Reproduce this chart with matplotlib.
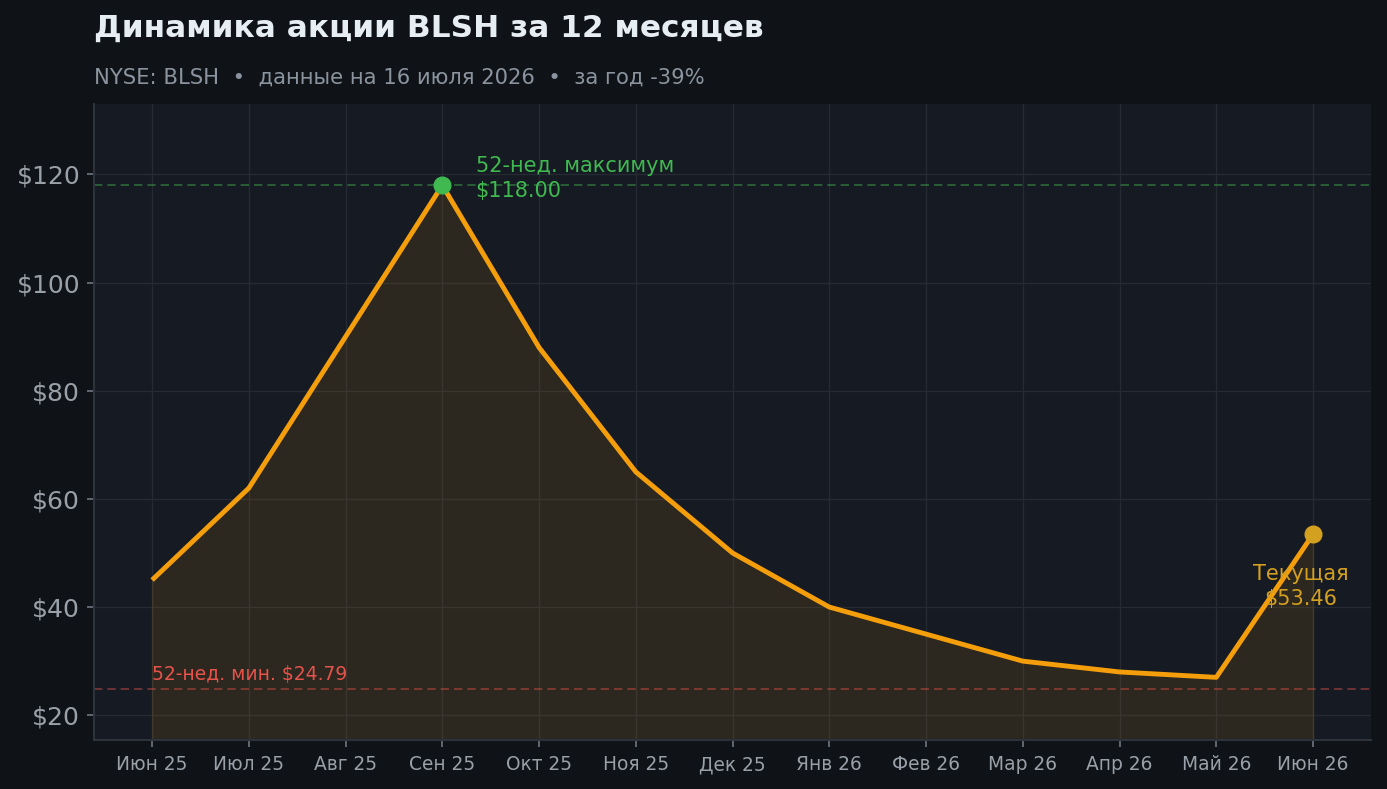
import matplotlib
matplotlib.use("Agg")
import matplotlib.pyplot as plt
import numpy as np

# данные
months = ["Июн 25", "Июл 25", "Авг 25", "Сен 25", "Окт 25", "Ноя 25", "Дек 25",
          "Янв 26", "Фев 26", "Мар 26", "Апр 26", "Май 26", "Июн 26"]
prices = [45, 62, 90, 118, 88, 65, 50, 40, 35, 30, 28, 27, 53.46]
high_52w = 118.00
low_52w = 24.79
current = 53.46
yticks = [20, 40, 60, 80, 100, 120]

title = "Динамика акции BLSH за 12 месяцев"
subtitle = "NYSE: BLSH  •  данные на 16 июля 2026  •  за год -39%"

BG = "#0f1318"
AX_BG = "#161a22"
ORANGE = "#f59e0b"
GREEN = "#3fb950"
RED = "#e5534b"
GOLD = "#d4a020"
GRID = "#252a33"
TXT = "#8b949e"
TICKLAB = "#9aa0a8"

plt.rcParams['font.family'] = ['DejaVu Sans']

fig = plt.figure(figsize=(13.87, 7.89), dpi=100, facecolor=BG)
ax = fig.add_axes([0.0678, 0.062, 0.9207, 0.806])
ax.set_facecolor(AX_BG)

x = np.arange(len(months))
ax.fill_between(x, prices, 0, color=ORANGE, alpha=0.1, linewidth=1)
ax.plot(x, prices, color=ORANGE, linewidth=3.5, zorder=4, solid_capstyle='butt')

ax.axhline(high_52w, color=GREEN, linestyle=(0, (5, 3)), linewidth=1.2, alpha=0.5, zorder=2)
ax.axhline(low_52w, color=RED, linestyle=(0, (5, 3)), linewidth=1.2, alpha=0.5, zorder=2)

imax = int(np.argmax(prices))
ax.plot(imax, high_52w, 'o', color=GREEN, markersize=12, zorder=5)
ax.plot(x[-1], current, 'o', color=GOLD, markersize=12, zorder=5)

ax.annotate(f"52-нед. максимум\n${high_52w:.2f}", xy=(imax, high_52w),
            xytext=(24, 5), textcoords='offset points', color=GREEN,
            fontsize=15, ha='left', va='center', linespacing=1.3)
ax.annotate(f"Текущая\n${current:.2f}", xy=(x[-1], current),
            xytext=(-9, -37.5), textcoords='offset points', color=GOLD,
            fontsize=15, ha='center', va='center', linespacing=1.3, zorder=6)
ax.annotate(f"52-нед. мин. ${low_52w:.2f}", xy=(0, low_52w),
            xytext=(0, 4), textcoords='offset points', color=RED,
            fontsize=13.5, ha='left', va='bottom')

ax.set_xlim(-0.6, 12.6)
ax.set_ylim(15.4, 133)
ax.set_xticks(x)
ax.set_xticklabels(months)
ax.set_yticks(yticks)
ax.set_yticklabels([f"${v}" for v in yticks])
ax.tick_params(axis='x', color="#6e7681", labelcolor=TICKLAB, labelsize=13.4,
               length=5, width=1.2, pad=6)
ax.tick_params(axis='y', color="#6e7681", labelcolor=TICKLAB, labelsize=18,
               length=5, width=1.2, pad=5)

ax.grid(True, color=GRID, linewidth=1)
ax.set_axisbelow(True)
for s in ['top', 'right']:
    ax.spines[s].set_visible(False)
for s in ['left', 'bottom']:
    ax.spines[s].set_color("#2d333b")
    ax.spines[s].set_linewidth(1.5)

fig.text(0.0678, 0.964, title, color="#e6edf3", fontsize=22.4, fontweight='bold',
         ha='left', va='center')
fig.text(0.0678, 0.902, subtitle, color=TXT, fontsize=15.2, ha='left', va='center')

fig.savefig("out.png", dpi=100, facecolor=BG)
